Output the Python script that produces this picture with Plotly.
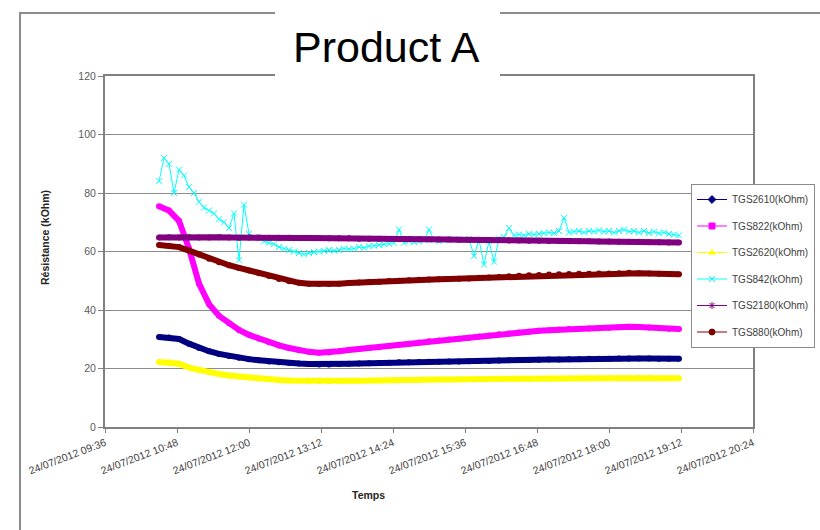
import pandas as pd
import plotly.graph_objects as go

# ---------------- data ----------------
series_names = ["TGS2610(kOhm)", "TGS822(kOhm)", "TGS2620(kOhm)",
                "TGS842(kOhm)", "TGS2180(kOhm)", "TGS880(kOhm)"]

# smooth sensors sampled every 10 minutes, 10:30 -> 19:10
times_10min = pd.date_range("2012-07-24 10:30", "2012-07-24 19:10", freq="10min")
# noisy TGS842 sampled every 5 minutes, 10:30 -> 19:10
times_5min = pd.date_range("2012-07-24 10:30", "2012-07-24 19:10", freq="5min")

tgs2610 = [30.8, 30.6, 30.1,
           28.5, 27.0, 25.9, 25.0, 24.3, 23.7,
           23.2, 22.8, 22.4, 22.1, 21.9, 21.7,
           21.5, 21.4, 21.4, 21.5, 21.6, 21.7,
           21.8, 21.9, 22.0, 22.1, 22.1, 22.2,
           22.3, 22.3, 22.4, 22.4, 22.5, 22.6,
           22.6, 22.7, 22.8, 22.9, 22.9, 23.0,
           23.1, 23.1, 23.2, 23.2, 23.3, 23.3,
           23.3, 23.4, 23.4, 23.4, 23.4, 23.3,
           23.3, 23.3]

tgs822 = [75.5, 74.0, 70.5,
          61.0, 49.0, 42.0, 38.0, 35.5, 33.2,
          31.5, 30.2, 29.0, 27.9, 27.0, 26.2,
          25.7, 25.4, 25.5, 25.9, 26.3, 26.7,
          27.0, 27.3, 27.7, 28.1, 28.5, 28.9,
          29.3, 29.6, 29.9, 30.2, 30.5, 30.9,
          31.3, 31.7, 32.0, 32.3, 32.6, 32.9,
          33.1, 33.3, 33.5, 33.6, 33.7, 33.8,
          33.9, 34.1, 34.3, 34.2, 34.0, 33.8,
          33.6, 33.5]

tgs2620 = [22.2, 22.1, 21.6,
           20.3, 19.4, 18.7, 18.1, 17.6, 17.2,
           16.9, 16.6, 16.3, 16.1, 15.9, 15.8,
           15.7, 15.6, 15.6, 15.7, 15.8, 15.8,
           15.9, 15.9, 16.0, 16.0, 16.1, 16.1,
           16.2, 16.2, 16.2, 16.3, 16.3, 16.4,
           16.4, 16.4, 16.5, 16.5, 16.5, 16.6,
           16.6, 16.6, 16.7, 16.7, 16.7, 16.7,
           16.7, 16.8, 16.8, 16.8, 16.8, 16.7,
           16.7, 16.7]

tgs842 = [84, 92, 90, 80, 88, 86,
          82, 80, 77, 75, 74, 73, 71, 70, 68, 73, 57, 76,
          66, 65, 64.5, 63.5, 63, 62.5, 61.5, 61, 60.5, 60, 59.5, 59,
          59.5, 59.8, 60, 60.2, 60.5, 60.3, 60.5, 61, 60.8, 61, 61.5, 61.3,
          61.8, 62, 62.2, 62.5, 62.6, 63, 67.5, 63, 63.5, 63.2, 63.5, 63.8,
          67.5, 64, 63.5, 64, 63.8, 64, 64.2, 64, 64.3, 58.5, 64, 55.5,
          63.5, 56.5, 64.5, 65, 68, 65.5, 65.8, 65.5, 66, 65.8, 66, 66.2,
          66.5, 66.3, 67, 71.5, 66.5, 66.8, 67, 66.5, 67, 66.8, 67.2, 66.8,
          67, 66.5, 67, 67.5, 66.8, 67, 66.5, 67, 66.3, 66.8, 66.2, 66.5,
          66, 65.8, 65.5]

tgs2180 = [64.8, 64.9, 64.8,
           64.9, 64.8, 64.8, 64.9, 64.8, 64.7,
           64.8, 64.8, 64.7, 64.7, 64.7, 64.6,
           64.6, 64.6, 64.5, 64.5, 64.5, 64.4,
           64.4, 64.4, 64.3, 64.3, 64.3, 64.2,
           64.2, 64.1, 64.1, 64.0, 64.0, 64.0,
           63.9, 63.9, 63.8, 63.8, 63.7, 63.7,
           63.6, 63.6, 63.5, 63.5, 63.5, 63.4,
           63.4, 63.3, 63.3, 63.3, 63.2, 63.2,
           63.1, 63.1]

tgs880 = [62.2, 62.0, 61.5,
          60.3, 59.0, 57.5, 56.3, 55.3, 54.4,
          53.5, 52.6, 51.6, 50.6, 49.8, 49.3,
          49.0, 48.9, 48.9, 49.0, 49.2, 49.4,
          49.6, 49.7, 49.9, 50.0, 50.2, 50.3,
          50.4, 50.5, 50.6, 50.7, 50.8, 51.0,
          51.1, 51.3, 51.5, 51.7, 51.9, 52.0,
          52.1, 52.2, 52.3, 52.4, 52.4, 52.5,
          52.5, 52.6, 52.7, 52.6, 52.5, 52.4,
          52.3, 52.2]

y_ticks = [0, 20, 40, 60, 80, 100, 120]
x_tick_start = "2012-07-24 09:36"
x_tick_end = "2012-07-24 20:24"

# ---------------- styling ----------------
colors = ["#000080", "#FF00FF", "#FFFF00", "#00FFFF", "#800080", "#800000"]
symbols = ["diamond", "square", "triangle-up", "x-thin-open", "asterisk-open", "circle"]

W, H = 820, 530
def px(x):
    return x / W
def py(y):
    return (H - y) / H

FONT = "Arial, Liberation Sans, sans-serif"

fig = go.Figure()

data = [(times_10min, tgs2610), (times_10min, tgs822), (times_10min, tgs2620),
        (times_5min, tgs842), (times_10min, tgs2180), (times_10min, tgs880)]

for i, (xs, ys) in enumerate(data):
    if i == 3:
        fig.add_trace(go.Scatter(
            x=xs, y=ys, mode="lines+markers", showlegend=False,
            line=dict(color=colors[i], width=1),
            marker=dict(symbol=symbols[i], size=6, color=colors[i],
                        line=dict(color=colors[i], width=1)),
            hoverinfo="x+y"))
    else:
        fig.add_trace(go.Scatter(
            x=xs, y=ys, mode="lines+markers", showlegend=False,
            line=dict(color=colors[i], width=6),
            marker=dict(symbol="circle", size=6, color=colors[i]),
            hoverinfo="x+y"))

# legend entries (thin line + marker, like the original legend)
for i, name in enumerate(series_names):
    fig.add_trace(go.Scatter(
        x=[None], y=[None], mode="lines+markers", name=name,
        legendgroup=name,
        line=dict(color=colors[i], width=1),
        marker=dict(symbol=symbols[i], size=6, color=colors[i],
                    line=dict(color=colors[i], width=1))))

fig.update_layout(
    width=W, height=H, autosize=False,
    margin=dict(l=0, r=0, t=0, b=0),
    paper_bgcolor="white", plot_bgcolor="white",
    font=dict(family=FONT, size=10, color="#404040"),
    showlegend=True,
    legend=dict(x=px(691), y=py(184), xanchor="left", yanchor="top",
                bordercolor="#8a8a8a", borderwidth=1, bgcolor="white",
                font=dict(family=FONT, size=10, color="#404040"),
                tracegroupgap=7.5, itemwidth=30),
    xaxis=dict(domain=[px(105), px(753)], type="date",
               range=[x_tick_start, x_tick_end],
               tick0=x_tick_start, dtick=72 * 60 * 1000,
               tickformat="%d/%m/%Y %H:%M", tickangle=-21,
               tickfont=dict(family=FONT, size=10.5, color="#404040"),
               ticks="outside", ticklen=4, tickcolor="#808080",
               showgrid=False, zeroline=False,
               showline=True, linecolor="#808080", linewidth=2, mirror=True,
               automargin=False),
    yaxis=dict(domain=[py(427), py(76)], range=[0, 120],
               tickvals=y_ticks,
               tickfont=dict(family=FONT, size=10.5, color="#595959"),
               ticks="outside", ticklen=5, tickcolor="#808080",
               showgrid=True, gridcolor="#8c8c8c", gridwidth=1,
               zeroline=False,
               showline=True, linecolor="#808080", linewidth=2, mirror=True,
               automargin=False),
    shapes=[
        # slide frame
        dict(type="rect", xref="paper", yref="paper",
             x0=px(20), x1=1.05, y0=-0.05, y1=py(13),
             line=dict(color="#8c8c8c", width=2), layer="below"),
        # white title box over frame
        dict(type="rect", xref="paper", yref="paper",
             x0=px(275), x1=px(500), y0=py(79), y1=1.02,
             fillcolor="white", line=dict(width=0), layer="above"),
    ],
    annotations=[
        dict(text="Product A", x=px(386), y=py(47), xref="paper", yref="paper",
             xanchor="center", yanchor="middle", showarrow=False,
             font=dict(family=FONT, size=43, color="#000000")),
        dict(text="<b>Résistance (kOhm)</b>", x=px(45), y=py(238),
             xref="paper", yref="paper", textangle=-90,
             xanchor="center", yanchor="middle", showarrow=False,
             font=dict(family=FONT, size=10.5, color="#262626")),
        dict(text="<b>Temps</b>", x=px(368), y=py(495),
             xref="paper", yref="paper",
             xanchor="center", yanchor="middle", showarrow=False,
             font=dict(family=FONT, size=10.5, color="#262626")),
    ],
)

fig.write_html("out.html",
               config={"displayModeBar": False},
               post_script="document.body.style.margin='0px';document.body.style.overflow='hidden';")
